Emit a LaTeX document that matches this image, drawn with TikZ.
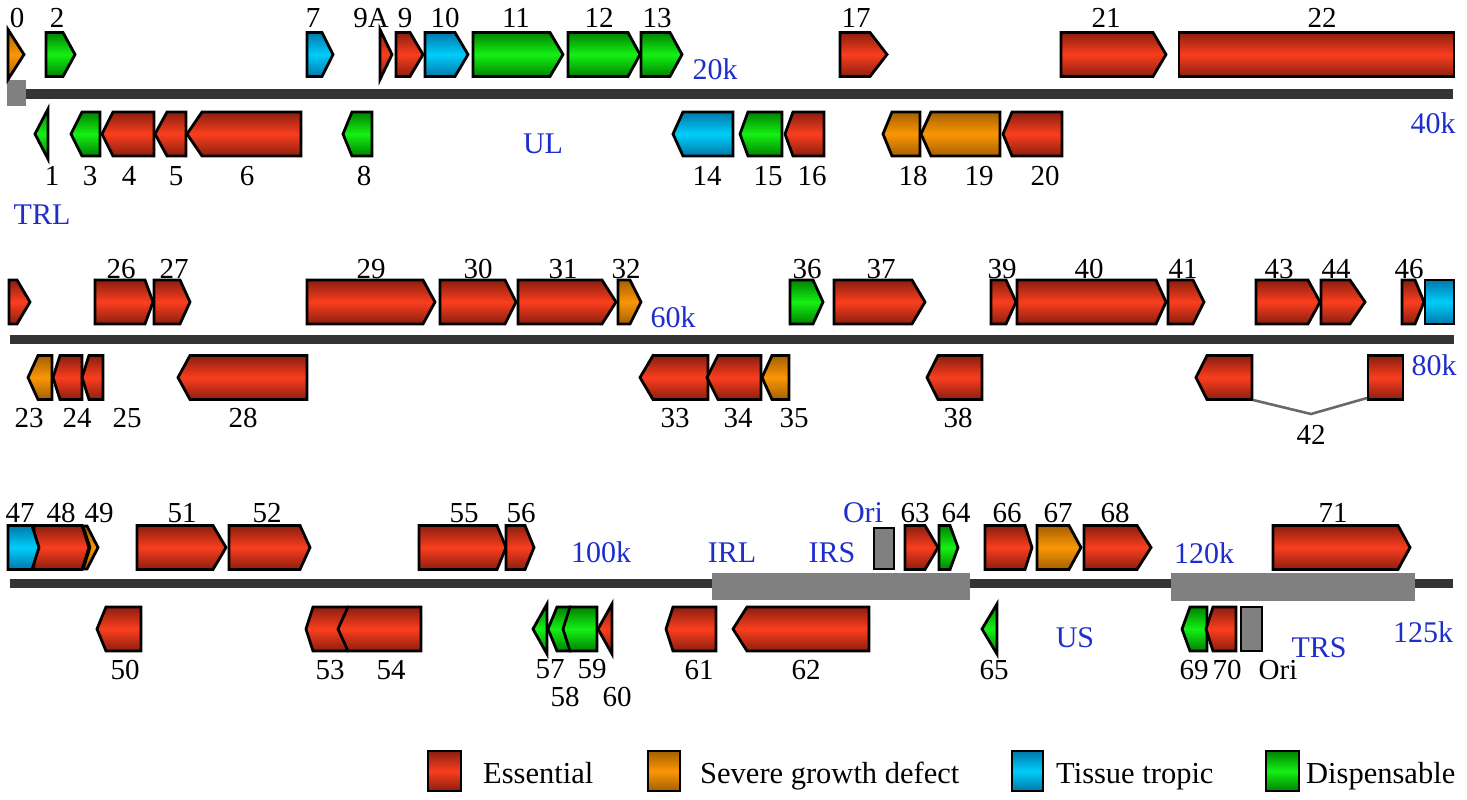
\documentclass[tikz,border=0pt]{standalone}
\usepackage{fontspec}
\setmainfont{Liberation Serif}
\definecolor{redD}{RGB}{140,30,15}
\definecolor{redL}{RGB}{250,62,30}
\definecolor{orangeD}{RGB}{165,95,0}
\definecolor{orangeL}{RGB}{250,150,5}
\definecolor{blueD}{RGB}{0,120,170}
\definecolor{blueL}{RGB}{0,205,250}
\definecolor{greenD}{RGB}{0,130,0}
\definecolor{greenL}{RGB}{20,240,20}
\definecolor{bbgray}{RGB}{52,52,52}
\definecolor{regray}{RGB}{128,128,128}
\definecolor{splgray}{RGB}{105,105,105}
\definecolor{labblue}{RGB}{30,45,205}
\tikzset{
  gene/.style={draw=black, line width=2.8pt, line join=miter},
  ess/.style={gene, top color=redD, bottom color=redD, middle color=redL},
  sev/.style={gene, top color=orangeD, bottom color=orangeD, middle color=orangeL},
  tis/.style={gene, top color=blueD, bottom color=blueD, middle color=blueL},
  dis/.style={gene, top color=greenD, bottom color=greenD, middle color=greenL},
  oribox/.style={draw=black, line width=2.8pt, fill=regray},
  backbone/.style={fill=bbgray},
  repeatbox/.style={fill=regray},
  lbl/.style={font=\fontsize{29}{29}\selectfont, anchor=base, inner sep=0pt},
  blbl/.style={font=\fontsize{30}{30}\selectfont, anchor=base, inner sep=0pt, text=labblue},
  leglbl/.style={font=\fontsize{30.5}{30.5}\selectfont, anchor=base west, inner sep=0pt},
  splice/.style={draw=splgray, line width=2.6pt}
}
\newcommand\geneF[5]{\path[#1] (#2,#5-22) -- (#3,#5-22) -- (#4,#5) -- (#3,#5+22) -- (#2,#5+22) -- cycle;}
\newcommand\geneR[5]{\path[#1] (#2,#5) -- (#3,#5-22) -- (#4,#5-22) -- (#4,#5+22) -- (#3,#5+22) -- cycle;}
\newcommand\geneBox[4]{\path[#1] (#2,#4-22) rectangle (#3,#4+22);}
\newcommand\triF[4]{\path[#1] (#2,#4-25) -- (#3,#4) -- (#2,#4+25) -- cycle;}
\newcommand\triR[4]{\path[#1] (#2,#4) -- (#3,#4-25) -- (#3,#4+25) -- cycle;}
\newcommand\lab[4]{\node[lbl] (#1) at (#2,#3) {#4};}
\newcommand\blab[4]{\node[blbl] (#1) at (#2,#3) {#4};}
\begin{document}
\begin{tikzpicture}[x=1pt, y=-1pt]
\useasboundingbox (0,0) rectangle (1467,800);
% ---------------- Row 1 ----------------
\path[backbone] (7,89) rectangle (1453,99);
\path[repeatbox] (7,80) rectangle (26,106);
% top strand
\triF{sev}{8}{24}{54.5}
\geneF{dis}{46}{63}{75}{54.5}
\geneF{tis}{307}{322}{333}{54.5}
\triF{ess}{380}{392}{54.5}
\geneF{ess}{396}{410}{423}{54.5}
\geneF{tis}{425}{455}{468}{54.5}
\geneF{dis}{473}{550}{563}{54.5}
\geneF{dis}{568}{628}{640}{54.5}
\geneF{dis}{641}{670}{682}{54.5}
\geneF{ess}{840}{870}{887}{54.5}
\geneF{ess}{1061}{1153}{1166}{54.5}
\geneBox{ess}{1179}{1454}{54.5}
% bottom strand
\triR{dis}{35}{48}{134}
\geneR{dis}{71}{82}{100}{134}
\geneR{ess}{102}{113}{154}{134}
\geneR{ess}{155}{167}{186}{134}
\geneR{ess}{187}{202}{301}{134}
\geneR{dis}{343}{352}{372}{134}
\geneR{tis}{673}{683}{733}{134}
\geneR{dis}{740}{748}{782}{134}
\geneR{ess}{785}{793}{824}{134}
\geneR{sev}{883}{892}{920}{134}
\geneR{sev}{921}{931}{1000}{134}
\geneR{ess}{1003}{1012}{1062}{134}
% labels
\lab{n0}{17}{28}{0}
\lab{n2}{57}{28}{2}
\lab{n7}{313}{28}{7}
\lab{n9A}{371}{28}{9A}
\lab{n9}{405}{28}{9}
\lab{n10}{445}{28}{10}
\lab{n11}{516}{28}{11}
\lab{n12}{599}{28}{12}
\lab{n13}{657}{28}{13}
\lab{n17}{856}{28}{17}
\lab{n21}{1106}{28}{21}
\lab{n22}{1322}{28}{22}
\lab{n1}{52}{185}{1}
\lab{n3}{90}{185}{3}
\lab{n4}{129}{185}{4}
\lab{n5}{176}{185}{5}
\lab{n6}{247}{185}{6}
\lab{n8}{364}{185}{8}
\lab{n14}{707}{185}{14}
\lab{n15}{768}{185}{15}
\lab{n16}{812}{185}{16}
\lab{n18}{913}{185}{18}
\lab{n19}{979}{185}{19}
\lab{n20}{1045}{185}{20}
\blab{bTRL}{42}{224}{TRL}
\blab{bUL}{543}{153}{UL}
\blab{b20k}{715}{80}{20k}
\blab{b40k}{1433}{133}{40k}
% ---------------- Row 2 ----------------
\path[backbone] (10,335) rectangle (1454,344);
\geneF{ess}{9}{17}{30}{302}
\geneF{ess}{95}{145}{153}{302}
\geneF{ess}{154}{180}{190}{302}
\geneF{ess}{307}{423}{435}{302}
\geneF{ess}{440}{505}{516}{302}
\geneF{ess}{518}{602}{616}{302}
\geneF{sev}{618}{630}{641}{302}
\geneF{dis}{790}{813}{823}{302}
\geneF{ess}{834}{912}{925}{302}
\geneF{ess}{991}{1006}{1016}{302}
\geneF{ess}{1017}{1156}{1166}{302}
\geneF{ess}{1168}{1193}{1204}{302}
\geneF{ess}{1256}{1308}{1320}{302}
\geneF{ess}{1321}{1350}{1365}{302}
\geneF{ess}{1402}{1415}{1424}{302}
\geneBox{tis}{1425}{1454}{302}
\geneR{sev}{28}{38}{52}{377.5}
\geneR{ess}{53}{60}{82}{377.5}
\geneR{ess}{82}{89}{103}{377.5}
\geneR{ess}{178}{190}{307}{377.5}
\geneR{ess}{640}{653}{708}{377.5}
\geneR{ess}{707}{718}{761}{377.5}
\geneR{sev}{762}{772}{789}{377.5}
\geneR{ess}{927}{938}{982}{377.5}
\geneR{ess}{1196}{1207}{1252}{377.5}
\geneBox{ess}{1368}{1403}{377.5}
\coordinate (s42a) at (1253,400);
\coordinate (s42m) at (1311,414);
\coordinate (s42b) at (1367,398);
\draw[splice] (s42a) -- (s42m) -- (s42b);
\lab{n26}{121}{278}{26}
\lab{n27}{174}{278}{27}
\lab{n29}{371}{278}{29}
\lab{n30}{478}{278}{30}
\lab{n31}{563}{278}{31}
\lab{n32}{626}{278}{32}
\lab{n36}{807}{278}{36}
\lab{n37}{881}{278}{37}
\lab{n39}{1002}{278}{39}
\lab{n40}{1089}{278}{40}
\lab{n41}{1183}{278}{41}
\lab{n43}{1279}{278}{43}
\lab{n44}{1336}{278}{44}
\lab{n46}{1409}{278}{46}
\lab{n23}{29}{427}{23}
\lab{n24}{77}{427}{24}
\lab{n25}{127}{427}{25}
\lab{n28}{243}{427}{28}
\lab{n33}{675}{427}{33}
\lab{n34}{738}{427}{34}
\lab{n35}{794}{427}{35}
\lab{n38}{958}{427}{38}
\lab{n42}{1311}{444}{42}
\blab{b60k}{673}{327}{60k}
\blab{b80k}{1434}{375}{80k}
% ---------------- Row 3 ----------------
\path[backbone] (10,579) rectangle (1453,588);
\path[repeatbox] (712,573) rectangle (970,600);
\path[repeatbox] (1171,573) rectangle (1415,601);
\geneF{ess}{34}{82}{89}{547.5}
\geneF{tis}{8}{32}{39}{547.5}
\path[sev] (83,526) -- (87,526) -- (98,547.5) -- (87,569) -- (83,569) -- (90,547.5) -- cycle;
\geneF{ess}{137}{213}{226}{547.5}
\geneF{ess}{229}{300}{310}{547.5}
\geneF{ess}{419}{497}{506}{547.5}
\geneF{ess}{506}{525}{534}{547.5}
\path[oribox] (874,528) rectangle (894,569);
\geneF{ess}{905}{925}{938}{547.5}
\geneF{dis}{939}{950}{958}{547.5}
\geneF{ess}{985}{1025}{1032}{547.5}
\geneF{sev}{1037}{1069}{1081}{547.5}
\geneF{ess}{1084}{1137}{1151}{547.5}
\geneF{ess}{1273}{1398}{1410}{547.5}
\geneR{ess}{97}{106}{141}{629}
\geneR{ess}{306}{313}{347}{629}
\geneR{ess}{338}{348}{421}{629}
\triR{dis}{533}{547}{629}
\geneR{dis}{548}{557}{570}{629}
\geneR{dis}{563}{570}{597}{629}
\triR{ess}{598}{612}{629}
\geneR{ess}{666}{673}{716}{629}
\geneR{ess}{733}{747}{869}{629}
\triR{dis}{982}{997}{629}
\geneR{dis}{1182}{1190}{1207}{629}
\geneR{ess}{1206}{1213}{1236}{629}
\path[oribox] (1241,607) rectangle (1262,651);
\lab{n47}{20}{522}{47}
\lab{n48}{61}{522}{48}
\lab{n49}{99}{522}{49}
\lab{n51}{182}{522}{51}
\lab{n52}{267}{522}{52}
\lab{n55}{464}{522}{55}
\lab{n56}{521}{522}{56}
\lab{n63}{915}{522}{63}
\lab{n64}{956}{522}{64}
\lab{n66}{1007}{522}{66}
\lab{n67}{1058}{522}{67}
\lab{n68}{1115}{522}{68}
\lab{n71}{1333}{522}{71}
\lab{n50}{125}{679}{50}
\lab{n53}{330}{679}{53}
\lab{n54}{391}{679}{54}
\lab{n57}{550}{678}{57}
\lab{n59}{592}{678}{59}
\lab{n58}{565}{706}{58}
\lab{n60}{617}{706}{60}
\lab{n61}{699}{679}{61}
\lab{n62}{806}{679}{62}
\lab{n65}{994}{679}{65}
\lab{n69}{1194}{679}{69}
\lab{n70}{1227}{679}{70}
\lab{nOri}{1278}{679}{Ori}
\blab{bOri}{863}{522}{Ori}
\blab{b100k}{601}{562}{100k}
\blab{bIRL}{732}{562}{IRL}
\blab{bIRS}{832}{562}{IRS}
\blab{b120k}{1204}{563}{120k}
\blab{bUS}{1075}{647}{US}
\blab{bTRS}{1319}{657}{TRS}
\blab{b125k}{1423}{642}{125k}
% ---------------- Legend ----------------
\path[ess] (428,751) rectangle (461,791);
\node[leglbl] (lgE) at (483,783) {Essential};
\path[sev] (648,751) rectangle (680,791);
\node[leglbl] (lgS) at (700,783) {Severe growth defect};
\path[tis] (1012,751) rectangle (1043,791);
\node[leglbl] (lgT) at (1056,783) {Tissue tropic};
\path[dis] (1266,751) rectangle (1299,791);
\node[leglbl] (lgD) at (1306,783) {Dispensable};
\end{tikzpicture}
\end{document}
